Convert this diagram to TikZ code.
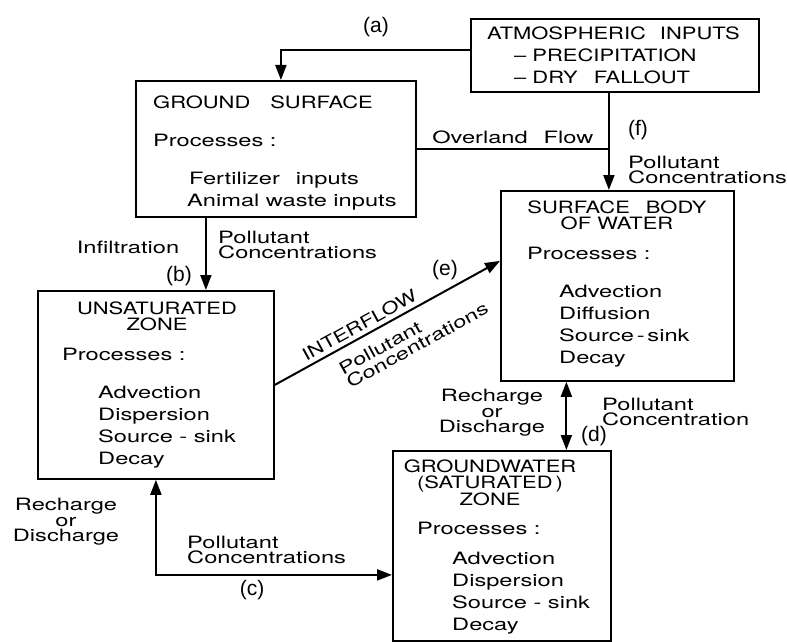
\documentclass[tikz,border=0pt]{standalone}
\usepackage{fontspec}
\setmainfont{TeX Gyre Heros}
\newfontfamily\widefont[FakeStretch=1.39]{TeX Gyre Heros}
\newfontfamily\capfont[FakeStretch=1.29]{TeX Gyre Heros}
\newfontfamily\tagfont{Liberation Sans}
\usetikzlibrary{arrows.meta,calc}
\newcommand{\wsp}{\hspace{16pt}}
\newcommand{\pad}[1]{\hspace*{#1pt}}

\tikzset{
  box/.style={draw, line width=1.8pt, anchor=north west, inner sep=0pt},
  txt/.style={font=\widefont\fontsize{17}{22}\selectfont, inner sep=0pt, align=left},
  head/.style={font=\capfont\fontsize{17}{15.5}\selectfont, inner sep=0pt, align=center},
  lbl/.style={font=\widefont\fontsize{17}{15.5}\selectfont, inner sep=0pt, align=left},
  tag/.style={font=\tagfont\fontsize{21}{24}\selectfont, inner sep=0pt},
  flow/.style={line width=2pt, -{Triangle[length=15pt,width=11pt]}},
  dflow/.style={line width=2pt, {Triangle[length=15pt,width=11pt]}-{Triangle[length=15pt,width=11pt]}},
}

\begin{document}
\begin{tikzpicture}[x=1pt, y=-1pt]
\useasboundingbox (0,0) rectangle (787,642);

\node[box, minimum width=288pt, minimum height=73pt]  (atm)    at (470,18)  {};
\node[box, minimum width=280pt, minimum height=136pt] (ground) at (135,80)  {};
\node[box, minimum width=236pt, minimum height=188pt] (unsat)  at (37,290)  {};
\node[box, minimum width=233pt, minimum height=190pt] (surf)   at (500,190) {};
\node[box, minimum width=218pt, minimum height=190pt] (gw)     at (392,450) {};

\node[txt, anchor=north west] (atmtxt) at (487,27)
  {{\capfont ATMOSPHERIC\hspace{14pt}INPUTS}\\\pad{27}{\capfont – PRECIPITATION}\\\pad{27}{\capfont – DRY\wsp FALLOUT}};
\node[txt, anchor=north west] (groundtxt) at (153,96)
  {{\capfont GROUND\hspace{20pt}SURFACE}\\[16pt]Processes :\\[16pt]\pad{36}Fertilizer\wsp inputs\\\pad{34}Animal waste inputs};
\node[head, anchor=north] (unsathead) at (157,302) {UNSATURATED\\ZONE};
\node[txt, anchor=north west] (unsattxt) at (62,348)
  {Processes :\\[16pt]\pad{36}Advection\\\pad{36}Dispersion\\\pad{36}Source - sink\\\pad{36}Decay};
\node[head, anchor=north] (surfhead) at (617,201) {SURFACE\wsp BODY\\OF WATER};
\node[txt, anchor=north west] (surftxt) at (527,247)
  {Processes :\\[16pt]\pad{32}Advection\\\pad{32}Diffusion\\\pad{32}Source\,-\,sink\\\pad{32}Decay};
\node[head, anchor=north] (gwhead) at (490,460) {GROUNDWATER\\(SATURATED\,)\\ZONE};
\node[txt, anchor=north west] (gwtxt) at (417,522)
  {Processes :\\[8pt]\pad{35}Advection\\\pad{35}Dispersion\\\pad{35}Source - sink\\\pad{35}Decay};

\coordinate (ovl) at ([xshift=-6pt]atm.south |- ground.east);
\draw[flow] ([yshift=5.5pt]atm.west) -| ([xshift=5pt]ground.north);
\draw[flow] ([xshift=-6pt]atm.south) -- ([xshift=-6pt]atm.south |- surf.north);
\draw[line width=2pt] (ground.east) -- node[lbl, above=4pt] (ovltxt) {Overland\wsp Flow} (ovl);
\draw[flow] ([xshift=-70pt]ground.south) -- ([xshift=-70pt]ground.south |- unsat.north);
\draw[flow] (unsat.east) -- node[head, sloped, pos=0.4, anchor=south, inner ysep=4pt] (iftxt) {INTERFLOW}
  node[lbl, sloped, pos=0.56, anchor=north, inner ysep=11pt] (ifconc) {Pollutant\\Concentrations}
  ([yshift=25pt]surf.west);
\draw[dflow] ([xshift=-51pt]surf.south) -- ([xshift=-51pt]surf.south |- gw.north);
\draw[dflow] (unsat.south) |- ([yshift=-29pt]gw.west);

\node[tag] (taga) at (376,27) {(a)};
\node[tag] (tagb) at (179,276) {(b)};
\node[tag] (tagc) at (252,590) {(c)};
\node[tag] (tagd) at (594,436) {(d)};
\node[tag] (tage) at (445,270) {(e)};
\node[tag] (tagf) at (638,130) {(f)};

\node[lbl] (infil) at (128,247) {Infiltration};
\node[lbl, anchor=west] (concb) at (218,245) {Pollutant\\Concentrations};
\node[lbl, anchor=west] (concf) at (628,170) {Pollutant\\Concentrations};
\node[lbl, align=center] (rechd) at (492,413) {Recharge\\or\\Discharge};
\node[lbl, anchor=west] (concd) at (602,412) {Pollutant\\Concentration};
\node[lbl, align=center] (rechc) at (66,522) {Recharge\\or\\Discharge};
\node[lbl, anchor=west] (concc) at (187,550) {Pollutant\\Concentrations};
\end{tikzpicture}
\end{document}
